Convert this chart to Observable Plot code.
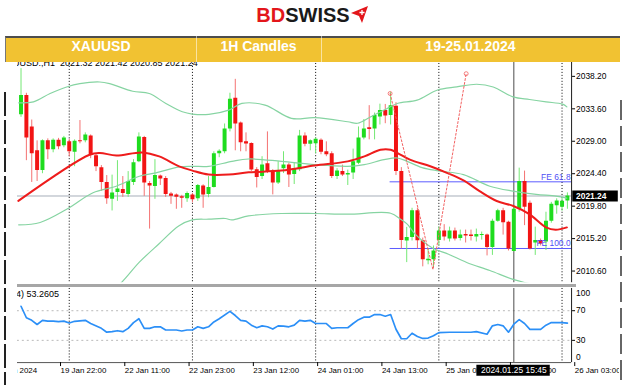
<!DOCTYPE html>
<html><head><meta charset="utf-8">
<script src="https://cdn.jsdelivr.net/npm/d3@7"></script>
<script src="https://cdn.jsdelivr.net/npm/@observablehq/plot@0.6"></script>
<style>
html,body{margin:0;padding:0;background:#fff;}
#root{position:relative;width:624px;height:385px;overflow:hidden;background:#fff;font-family:"Liberation Sans",Arial,sans-serif;}
#clip{position:absolute;left:17px;top:0;width:602px;height:385px;overflow:hidden;}
.abs{position:absolute;}
#banner{position:absolute;left:5px;top:36px;width:614px;height:24px;background:#f1c232;border-top:2px solid #4d4d4d;border-left:1px solid #777;z-index:5;}
.cell{position:absolute;top:0;height:24px;line-height:24px;text-align:center;color:#fff;font:bold 14px "Liberation Sans",Arial,sans-serif;}
.div{position:absolute;top:-2px;width:1px;height:26px;background:rgba(255,255,255,0.55);}
#logo{position:absolute;left:0;top:3px;width:624px;text-align:center;font:bold 20px "Liberation Sans",Arial,sans-serif;line-height:24px;}
.edgeL{position:absolute;left:4px;top:92px;width:2px;height:293px;background:repeating-linear-gradient(to bottom,#222 0 24px,transparent 24px 28px);}
.edgeR{position:absolute;left:620px;top:100px;width:2px;height:285px;background:repeating-linear-gradient(to bottom,#666 0 20px,transparent 20px 26px);}
</style></head><body>
<div id="root">
  <div id="clip">
    <div id="hdr" class="abs" style="left:-16px;top:57px;font-size:9px;line-height:12px;white-space:pre;color:#000;">XAUUSD.,H1  2021.32 2021.42 2020.85 2021.24</div>
    <div id="main" class="abs" style="left:-17px;top:60px;"></div>
    <div id="sep" class="abs" style="left:0;top:284px;width:559px;height:3px;background:#a6a6a6;"></div>
    <div id="rsi" class="abs" style="left:-17px;top:286px;"></div>
    <div id="rsilbl" class="abs" style="left:-24px;top:288px;font-size:9px;line-height:12px;white-space:pre;color:#000;">RSI(14) 53.2605</div>
  </div>
  <div class="edgeL"></div>
  <div class="edgeR"></div>
  <div id="logo"><span style="color:#e3161b">BD</span><span style="color:#1a1a1a">SWISS</span><svg width="17" height="17" viewBox="0 0 17 17" style="vertical-align:-1px;margin-left:1px"><polygon points="0,7 17,0 11,17 8,10" fill="#e3161b"/><path d="M11 4v5M8.5 6.5h5" stroke="#fff" stroke-width="1.3"/></svg></div>
  <div id="banner">
    <div class="cell" style="left:0;width:190px;">XAUUSD</div>
    <div class="cell" style="left:190px;width:125px;">1H Candles</div>
    <div class="cell" style="left:315px;width:299px;">19-25.01.2024</div>
    <div class="div" style="left:190px"></div>
    <div class="div" style="left:315px"></div>
  </div>
</div>
<script>
// ---- candles (1H bars, index 0 = 19 Jan 15:00) ----
const open = [2032.76,2035.5,2031.03,2027.65,2024.84,2029.06,2027.8,2029.13,2028.36,2028.92,
2027.44,2029.06,2029.06,2029.76,2026.95,2025.26,2023.16,2020.77,2021.75,2022.17,
2021.47,2023.16,2026.11,2029.55,2023.02,2022.59,2024.07,2023.72,2021.54,2021.4,
2021.12,2020.84,2021.4,2020.84,2022.66,2021.47,2022.45,2027.23,2027.51,2030.75,
2035.11,2031.59,2028.92,2028.68,2024.98,2024.0,2025.83,2024.77,2023.09,2025.12,
2025.62,2024.28,2024.98,2029.76,2028.57,2028.64,2029.13,2027.51,2027.23,2024.0,
2024.7,2024.21,2024.49,2025.9,2029.48,2030.93,2030.75,2032.43,2033.35,2032.65,
2033.98,2024.7,2014.86,2015.35,2019.15,2014.9,2012.05,2012.19,2014.93,2016.27,
2015.14,2016.27,2015.21,2015.77,2015.7,2015.42,2015.63,2015.7,2013.95,2017.67,
2019.15,2017.53,2013.38,2019.36,2023.3,2020.2,2014.58,2014.93,2014.72,2017.67,
2019.85,2019.64,2020.55];
const high = [2039.3,2035.8,2032.01,2029.06,2029.2,2029.34,2029.34,2029.41,2029.69,2029.27,
2029.2,2031.94,2030.19,2029.9,2027.23,2025.55,2024.14,2024.2,2026.25,2024.0,
2024.7,2026.4,2030.19,2029.69,2023.3,2026.39,2024.21,2024.0,2021.75,2021.54,
2021.33,2021.82,2021.61,2022.87,2022.83,2024.0,2027.51,2027.8,2031.45,2035.81,
2037.78,2031.73,2030.19,2028.78,2025.26,2026.81,2030.33,2024.98,2026.11,2027.51,
2025.9,2025.9,2030.54,2030.19,2029.2,2029.48,2029.34,2028.92,2027.51,2025.12,
2025.62,2024.91,2027.89,2031.03,2032.08,2034.05,2033.0,2034.26,2034.22,2035.95,
2034.47,2025.26,2016.8,2019.5,2019.5,2015.28,2013.73,2014.16,2016.83,2017.18,
2016.83,2016.69,2016.41,2016.41,2016.41,2016.55,2016.13,2015.84,2017.95,2019.36,
2019.5,2017.67,2019.64,2025.19,2024.77,2020.53,2016.83,2015.14,2018.94,2020.34,
2020.84,2020.91,2021.68];
const low = [2032.4,2026.25,2023.16,2023.3,2024.4,2026.39,2027.37,2027.8,2028.08,2026.81,
2025.4,2028.64,2028.78,2026.53,2024.7,2021.89,2020.06,2019.12,2020.48,2021.05,
2021.05,2022.73,2025.97,2021.19,2016.55,2020.77,2022.73,2021.05,2020.06,2019.36,
2019.5,2020.34,2020.27,2020.48,2019.5,2021.0,2022.38,2026.67,2027.23,2030.33,
2027.65,2027.51,2027.51,2024.7,2022.38,2023.58,2024.42,2021.4,2022.87,2024.42,
2022.45,2022.87,2024.7,2028.22,2027.65,2027.23,2027.09,2026.81,2023.72,2023.58,
2024.0,2022.73,2023.58,2025.69,2029.2,2029.2,2029.2,2031.31,2031.49,2031.31,
2024.14,2013.73,2011.8,2014.86,2013.73,2011.2,2011.49,2011.0,2014.16,2014.86,
2014.72,2014.86,2014.86,2014.58,2014.86,2014.72,2014.99,2012.75,2012.82,2017.53,
2015.7,2013.45,2013.31,2018.94,2017.04,2013.59,2012.82,2014.16,2013.52,2017.39,
2018.66,2019.08,2019.36];
const close = [2035.49,2029.48,2027.23,2024.84,2029.06,2027.8,2029.13,2028.22,2029.48,2027.51,
2028.99,2028.92,2029.9,2027.05,2025.4,2023.16,2020.86,2021.68,2022.24,2021.61,
2023.3,2025.97,2029.62,2023.09,2022.66,2024.14,2023.65,2021.47,2021.19,2021.05,
2020.91,2021.61,2020.7,2022.73,2021.4,2022.45,2027.23,2027.58,2030.75,2034.97,
2031.45,2028.78,2028.6,2024.94,2023.86,2025.62,2024.7,2023.09,2024.7,2025.62,
2024.21,2025.12,2029.76,2028.57,2029.06,2029.27,2027.44,2027.09,2024.0,2024.77,
2024.21,2024.42,2026.11,2029.48,2030.75,2030.68,2032.65,2033.35,2032.58,2034.05,
2024.7,2014.95,2015.35,2019.15,2014.9,2012.19,2012.26,2013.45,2016.27,2015.42,
2016.27,2015.14,2015.7,2015.56,2015.49,2015.77,2015.77,2013.95,2017.67,2019.15,
2017.46,2013.73,2019.36,2023.3,2019.64,2013.73,2014.93,2014.44,2017.67,2020.06,
2020.53,2020.48,2021.24];

// ---- indicators (bar index, value) ----
const maBar = [-0.5,12.8,14.7,17.8,22.6,25.8,29.5,32,35,38.8,42.5,48.6,54.8,61,64.1,67.1,69,70.3,72.6,76.4,79.5,82.6,85.6,88.8,91.9,94.9,98,99.8,101.9];
const maVal = [2020.55,2027.09,2027.33,2026.99,2027.42,2026.85,2025.45,2024.84,2024.28,2024.28,2024.6,2024.84,2025.55,2026.15,2026.85,2027.8,2027.8,2027.33,2026.39,2025.45,2024.52,2023.45,2021.93,2020.53,2019.82,2018.66,2016.79,2016.45,2016.79];
const upBar = [-0.44,2.33,5.43,8.52,10.98,14.69,16.54,20.85,23.94,27.04,30.11,31.96,35.06,38.76,41.22,45.56,50.48,54.81,60.98,62.83,65.3,67.78,70.24,73.94,77.65,81.35,85.06,88.15,91.85,94.93,98.02,101.1,101.9];
const upVal = [2034.45,2034.59,2035.77,2036.7,2037.17,2037.4,2037.17,2036.09,2035.77,2034.36,2033.18,2032.86,2032.81,2033.42,2034.36,2034.12,2032.25,2032.34,2031.77,2031.55,2032.48,2033.42,2034.36,2034.83,2036.23,2036.7,2037.08,2036.7,2035.29,2034.92,2034.59,2034.26,2033.88];
const midBar = [-0.44,3.57,8.52,13.44,17.78,22.09,25.19,29.5,31.96,35.06,39.37,42.46,48.63,54.81,60.98,64.07,67.78,70.24,72.09,74.87,77.96,82.59,87.52,91.85,96.17,99.87,101.9];
const midVal = [2017.15,2017.49,2019.36,2021.71,2022.63,2024.04,2024.52,2025.36,2025.45,2025.45,2026.15,2026.49,2026.15,2025.69,2025.45,2025.69,2026.39,2026.63,2026.15,2025.26,2024.8,2024.28,2022.63,2021.93,2021.47,2021.23,2020.95];
const lowBar = [15,18.39,22.09,25.72,29.5,31.96,35.06,38.15,39.37,42.46,48.63,54.81,60.98,69,70.85,72.09,73.63,76.72,79.81,83.2,87.52,91.85,94.93,99.87,101.9];
const lowVal = [2006.9,2008.71,2011.86,2014.44,2017.01,2017.85,2017.95,2018.05,2017.85,2018.42,2018.76,2018.76,2018.66,2018.8,2017.95,2017.25,2015.8,2013.92,2012.99,2011.81,2010.68,2009.42,2008.81,2007.83,2007.6];
const rsiBar = [0,1,2,3,4,5,6,7,8,9,10,12,13,15,16,17,18,19,20,21,22,23,24,25,26,27,29,30,31,32,33,34,35,36,37,39,40,41,42,43,44,45,46,47,48,49,50,51,52,53,54,55,57,58,59,61,62,63,64,65,66,67,68,69,70,71,72,73,74,75,76,77,78,80,82,84,85,87,88,89,90,91,92,93,94,95,96,97,98,99,101,102];
const rsiVal = [76,60.5,57,51.4,57,56,56,55.3,56,53.5,55.7,57,52.7,46.2,41,41.7,43,41.7,46.2,54,59.2,46.2,46.2,48.3,48.3,44,44,42.6,44,44,48.3,46.2,48.3,54.8,59.2,69.1,63.5,57,56,50.5,47,49.5,48.3,45.2,49.5,49.2,48.3,50.5,57,56,57,52.7,52.7,46.2,47,47,52.7,57.9,61.3,61.3,64.8,64.8,62.6,64.8,45,32.2,32.2,39.6,35.2,32.6,33.1,36.1,40.4,40.9,40.9,40.9,41.7,38.3,49.6,51.4,49.6,41,51.8,57.9,52.7,44.9,44.9,44.9,50.5,54,54,53.3];

// ---- objects on the chart ----
const lastPrice = 2021.24;
const feBar = [68.9, 76.9, 83.1];
const fePrice = [2035.77, 2010.81, 2038.58];
const feLevels = [2023.25, 2013.8];
const feLabels = ["FE 61.8", "FE 100.0"];
const separatorBars = [9, 32, 55, 78, 101];
const crossBar = 92;
const crossLabel = "2024.01.25 15:45";

// ---- ticks ----
const priceTicks = [2038.2, 2033.6, 2029.0, 2024.4, 2019.8, 2015.2, 2010.6];
const rsiTicks = [70, 30];
const timeTickBars = [-5.5, 7, 19, 31, 43, 55, 67, 79, 91, 103];
const timeTickLabels = ["19 Jan 2024", "19 Jan 22:00", "22 Jan 11:00", "22 Jan 23:00", "23 Jan 12:00", "24 Jan 01:00", "24 Jan 13:00", "25 Jan 02:00", "25 Jan 14:00", "26 Jan 03:00"];

// ---- build ----
const X0 = -0.685, X1 = 102.78;
const candles = open.map((o, i) => ({i, o, h: high[i], l: low[i], c: close[i], up: close[i] >= o}));
const pts = (bs, vs) => bs.map((b, k) => ({b, v: vs[k]}));
const font = "Liberation Sans, Arial, sans-serif";
const GREEN = "#1edc1e", RED = "#f21414";

const mainPlot = Plot.plot({
  width: 624, height: 226,
  marginLeft: 17, marginRight: 48.3, marginTop: 0, marginBottom: 2,
  style: {background: "transparent", overflow: "visible", fontFamily: font, fontSize: "8.5px", color: "#000"},
  x: {domain: [X0, X1], axis: null},
  y: {domain: [2008.95, 2040.45]},
  marks: [
    Plot.ruleY([lastPrice], {stroke: "#a5adb8", strokeWidth: 1, clip: true}),
    Plot.ruleX(separatorBars, {stroke: "#000", strokeDasharray: "1,2"}),
    Plot.ruleX([crossBar], {stroke: "#4a4a4a"}),
    Plot.ruleY(feLevels, {x1: feBar[0], x2: X1, stroke: "#5a5aff", strokeWidth: 1}),
    Plot.ruleX(candles, {x: "i", y1: "l", y2: "h", stroke: d => d.up ? "#72e872" : "#f47070", strokeWidth: 1, clip: true}),
    Plot.ruleX(candles, {x: "i", y1: "o", y2: "c", stroke: d => d.up ? GREEN : RED, strokeWidth: 4, clip: true}),
    Plot.line(pts(upBar, upVal), {x: "b", y: "v", stroke: "#86d4a2", strokeWidth: 1.2, curve: "catmull-rom", clip: true}),
    Plot.line(pts(midBar, midVal), {x: "b", y: "v", stroke: "#86d4a2", strokeWidth: 1.2, curve: "catmull-rom", clip: true}),
    Plot.line(pts(lowBar, lowVal), {x: "b", y: "v", stroke: "#86d4a2", strokeWidth: 1.2, curve: "catmull-rom", clip: true}),
    Plot.line(pts(maBar, maVal), {x: "b", y: "v", stroke: "#ee1c1c", strokeWidth: 2, curve: "catmull-rom", clip: true}),
    Plot.line(pts(feBar, fePrice), {x: "b", y: "v", stroke: "#f26060", strokeWidth: 1, strokeDasharray: "2,2", clip: true}),
    Plot.dot(pts([feBar[0], feBar[2]], [fePrice[0], fePrice[2]]), {x: "b", y: "v", r: 2, stroke: "#f26060", strokeWidth: 0.8, fill: "none", clip: true}),
    Plot.text(feLevels, {x: X1, y: d => d, text: (d, k) => feLabels[k], textAnchor: "end", dx: -1, dy: -5, fill: "#4f4ff5", fontSize: 8.5}),
    Plot.ruleX([X1], {stroke: "#1a1a1a"}),
    Plot.axisY({ticks: priceTicks, anchor: "right", tickSize: 3, tickPadding: 1.5, tickFormat: d => d.toFixed(2), label: null, fontSize: 8.5, fill: "#000"}),
    Plot.ruleY([lastPrice], {x1: 103.0, x2: 111.5, stroke: "#000", strokeWidth: 11}),
    Plot.text([lastPrice], {x: X1, y: d => d, text: d => d.toFixed(2), textAnchor: "start", dx: 4.5, fill: "#fff", fontSize: 8.5, fontWeight: "bold"})
  ]
});
document.getElementById("main").appendChild(mainPlot);

const rsiPlot = Plot.plot({
  width: 624, height: 99,
  marginLeft: 17, marginRight: 48.3, marginTop: 2, marginBottom: 22.3,
  style: {background: "transparent", overflow: "visible", fontFamily: font, fontSize: "8px", color: "#000"},
  x: {domain: [X0, X1]},
  y: {domain: [0, 100]},
  marks: [
    Plot.ruleY(rsiTicks, {stroke: "#b8b8b8", strokeDasharray: "2,3"}),
    Plot.ruleX(separatorBars, {stroke: "#000", strokeDasharray: "1,2"}),
    Plot.ruleX([crossBar], {stroke: "#4a4a4a"}),
    Plot.line(pts(rsiBar, rsiVal), {x: "b", y: "v", stroke: "#2b8ff7", strokeWidth: 1.7, clip: true}),
    Plot.ruleY([0], {stroke: "#555"}),
    Plot.ruleX([X1], {stroke: "#1a1a1a"}),
    Plot.axisY({ticks: rsiTicks, anchor: "right", tickSize: 3, tickPadding: 1.5, label: null, fontSize: 8.5, fill: "#000"}),
    Plot.axisY({ticks: [100], anchor: "right", tickSize: 0, tickPadding: 4.5, dy: 5, label: null, fontSize: 8.5, fill: "#000"}),
    Plot.axisY({ticks: [0], anchor: "right", tickSize: 0, tickPadding: 4.5, dy: -5, label: null, fontSize: 8.5, fill: "#000"}),
    Plot.axisX({ticks: timeTickBars, anchor: "bottom", tickSize: 4, tickPadding: 0.5, textAnchor: "start", dx: 2, label: null, fontSize: 8, fill: "#000",
      tickFormat: d => timeTickLabels[timeTickBars.indexOf(d)]}),
    Plot.ruleY([-10.3], {x1: crossBar - 6.9, x2: crossBar + 6.8, stroke: "#000", strokeWidth: 11}),
    Plot.text([crossBar], {x: d => d, y: -10.3, text: () => crossLabel, fill: "#fff", fontSize: 8.5})
  ]
});
document.getElementById("rsi").appendChild(rsiPlot);
</script>
</body></html>
